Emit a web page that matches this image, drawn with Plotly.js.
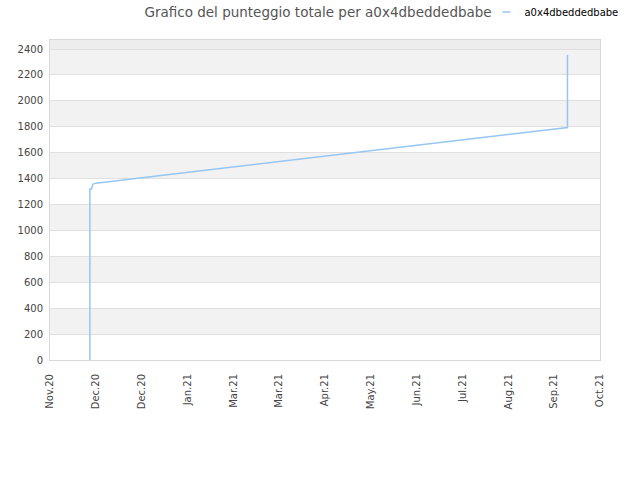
<!DOCTYPE html>
<html>
<head>
<meta charset="utf-8">
<script src="https://cdn.plot.ly/plotly-3.0.1.min.js"></script>
<style>
  body { margin: 0; background: #fff; }
  #chart { width: 640px; height: 480px; }
</style>
</head>
<body>
<div id="chart"></div>
<script>
// etichette dell'asse x (una per tacca)
const tickLabels = ["Nov.20", "Dec.20", "Dec.20", "Jan.21", "Mar.21", "Mar.21", "Apr.21",
  "May.21", "Jun.21", "Jul.21", "Aug.21", "Sep.21", "Oct.21"];
const tickPos = tickLabels.map((_, i) => i);

// punteggio totale (x = posizione sulle tacche)
const scoreX = [0.87, 0.87, 0.91, 0.91, 0.94, 0.98, 1.0, 1.5, 2.0, 2.5, 3.0, 3.5, 4.0, 4.5, 5.0, 5.5,
  6.0, 6.5, 7.0, 7.5, 8.0, 8.5, 9.0, 9.5, 10.0, 10.5, 11.0, 11.29, 11.29];
const scoreY = [0, 1320, 1322, 1330, 1358, 1362, 1365, 1386, 1407, 1427, 1448, 1469, 1490, 1511, 1532, 1552,
  1573, 1594, 1615, 1636, 1657, 1677, 1698, 1719, 1740, 1761, 1782, 1794, 2355];

const yTicks = [0, 200, 400, 600, 800, 1000, 1200, 1400, 1600, 1800, 2000, 2200, 2400];
const yMax = 2470;

// bande grigie alternate
let shapes = [];
for (let i = 1; i < yTicks.length - 1; i += 2) {
  shapes.push({
    type: "rect", xref: "paper", yref: "y", x0: 0, x1: 1,
    y0: yTicks[i], y1: yTicks[i + 1],
    fillcolor: "#f2f2f2", line: { width: 0 }, layer: "below"
  });
}
shapes.push({
  type: "rect", xref: "paper", yref: "y", x0: 0, x1: 1,
  y0: yTicks[yTicks.length - 1], y1: yMax,
  fillcolor: "#ededed", line: { width: 0 }, layer: "below"
});

const data = [{
  x: scoreX,
  y: scoreY,
  type: "scatter",
  mode: "lines",
  line: { color: "#96c6f4", width: 1.5 },
  name: "a0x4dbeddedbabe"
}];

const layout = {
  width: 640,
  height: 480,
  margin: { l: 50, r: 40, t: 40, b: 120 },
  paper_bgcolor: "#ffffff",
  plot_bgcolor: "#ffffff",
  font: { family: "DejaVu Sans, sans-serif", size: 10, color: "#444" },
  title: {
    text: "Grafico del punteggio totale per a0x4dbeddedbabe",
    font: { family: "DejaVu Sans, sans-serif", size: 13.5, color: "#555" },
    x: 0.497, xanchor: "center", y: 0.975, yanchor: "middle"
  },
  showlegend: true,
  legend: {
    orientation: "h",
    xref: "container", x: 0.757, xanchor: "left",
    yref: "container", y: 0.975, yanchor: "middle",
    font: { family: "DejaVu Sans, sans-serif", size: 10, color: "#000" },
    bgcolor: "rgba(0,0,0,0)"
  },
  xaxis: {
    range: [0, 12],
    tickvals: tickPos,
    ticktext: tickLabels,
    tickangle: -90,
    ticklabelstandoff: 9,
    showgrid: false,
    zeroline: false,
    showline: true,
    linecolor: "#d8d8d8",
    mirror: true,
    ticks: "",
    tickfont: { size: 10, color: "#444" }
  },
  yaxis: {
    range: [0, yMax],
    tickvals: yTicks,
    ticklabelstandoff: 4,
    showgrid: true,
    gridcolor: "#e0e0e0",
    zeroline: false,
    showline: true,
    linecolor: "#d8d8d8",
    mirror: true,
    ticks: "",
    tickfont: { size: 10, color: "#444" }
  },
  shapes: shapes
};

Plotly.newPlot("chart", data, layout, { displayModeBar: false, staticPlot: true }).then(gd => {
  // simbolo della legenda più corto, come nell'originale
  gd.querySelectorAll(".legend .js-line").forEach(p => p.setAttribute("d", "M18,0h8"));
});
</script>
</body>
</html>
